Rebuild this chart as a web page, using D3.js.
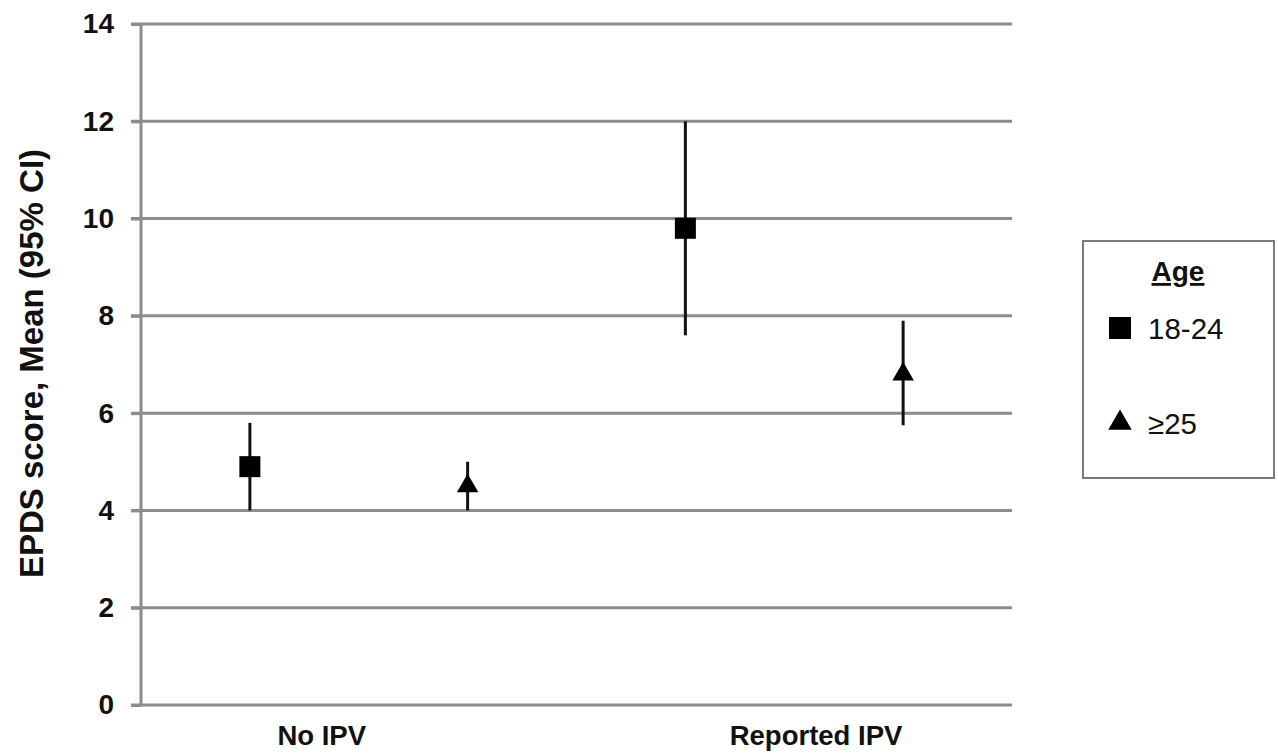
<!DOCTYPE html>
<html>
<head>
<meta charset="utf-8">
<script src="https://cdn.jsdelivr.net/npm/d3@7"></script>
<style>
  html, body { margin: 0; padding: 0; background: #fff; }
  svg { display: block; font-family: "Liberation Sans", Arial, Helvetica, sans-serif; }
</style>
</head>
<body>
<svg id="chart" width="1278" height="756"></svg>
<script>
// ---- data ----
const categories = ["No IPV", "Reported IPV"];
const ageGroups = ["18-24", "\u226525"];
const meanValues = [[4.9, 4.5], [9.8, 6.8]];      // [category][age]
const ciLower    = [[4.0, 4.0], [7.6, 5.75]];
const ciUpper    = [[5.8, 5.0], [12.0, 7.9]];
const yTicks = [0, 2, 4, 6, 8, 10, 12, 14];
const yTitle = "EPDS score, Mean (95% CI)";
const legendTitle = "Age";
// slot positions of category labels along the 4-slot x-domain
const categoryLabelPos = [0.83, 3.1];

// ---- layout ----
const svg = d3.select("#chart");
const plotLeft = 141, plotRight = 1012, plotTop = 24, plotBottom = 705;

const y = d3.scaleLinear().domain([0, 14]).range([plotBottom, plotTop]);
const x = d3.scaleLinear().domain([0, 4]).range([plotLeft, plotRight]);

const gridColor = "#8c8c8c";

// gridlines
svg.append("g").selectAll("line").data(yTicks).join("line")
  .attr("x1", plotLeft - 10).attr("x2", plotRight)
  .attr("y1", d => y(d)).attr("y2", d => y(d))
  .attr("stroke", gridColor).attr("stroke-width", 3);

// y axis
const yAxis = svg.append("g").attr("transform", `translate(${plotLeft},0)`)
  .call(d3.axisLeft(y).tickValues(yTicks).tickSize(10).tickPadding(17).tickFormat(d3.format("d")));
yAxis.select(".domain").attr("stroke", gridColor).attr("stroke-width", 3)
  .attr("d", `M0,${plotTop}V${plotBottom}`);
yAxis.selectAll(".tick line").attr("stroke", gridColor).attr("stroke-width", 3);
yAxis.selectAll(".tick text").attr("font-size", 28).attr("font-weight", "bold")
  .attr("fill", "#111").attr("font-family", "'Liberation Sans', Arial, sans-serif");

// y title
svg.append("text")
  .attr("transform", `translate(43,${(147 + 580) / 2}) rotate(-90)`)
  .attr("text-anchor", "middle")
  .attr("font-size", 33).attr("font-weight", "bold").attr("fill", "#111")
  .text(yTitle);

// category labels
svg.append("g").selectAll("text").data(categories).join("text")
  .attr("x", (d, i) => x(categoryLabelPos[i]))
  .attr("y", 745)
  .attr("text-anchor", "middle")
  .attr("font-size", 27.5).attr("font-weight", "bold").attr("fill", "#111")
  .text(d => d);

// points
const points = [];
categories.forEach((c, ci) => ageGroups.forEach((a, ai) => {
  points.push({slot: ci * 2 + ai + 0.5, age: ai, mean: meanValues[ci][ai], lo: ciLower[ci][ai], hi: ciUpper[ci][ai]});
}));

const g = svg.append("g");
g.selectAll("line.err").data(points).join("line").attr("class", "err")
  .attr("x1", d => x(d.slot)).attr("x2", d => x(d.slot))
  .attr("y1", d => y(d.lo)).attr("y2", d => y(d.hi))
  .attr("stroke", "#111").attr("stroke-width", 3);

const squareSym = d3.symbol().type(d3.symbolSquare).size(21 * 21);
const triSym = d3.symbol().type(d3.symbolTriangle).size(200);
g.selectAll("path.mk").data(points).join("path").attr("class", "mk")
  .attr("transform", d => `translate(${x(d.slot)},${y(d.mean)})`)
  .attr("d", d => d.age === 0 ? squareSym() : triSym())
  .attr("fill", "#000");

// legend
const leg = svg.append("g");
leg.append("rect").attr("x", 1083).attr("y", 241).attr("width", 191).attr("height", 237)
  .attr("fill", "#fff").attr("stroke", "#7a7a7a").attr("stroke-width", 2);
leg.append("text").attr("x", 1178).attr("y", 281).attr("text-anchor", "middle")
  .attr("font-size", 28).attr("font-weight", "bold").attr("fill", "#111")
  .attr("text-decoration", "underline").text(legendTitle);
const legY = [328, 423];
leg.selectAll("path").data(ageGroups).join("path")
  .attr("transform", (d, i) => `translate(1120,${legY[i]})`)
  .attr("d", (d, i) => i === 0 ? d3.symbol().type(d3.symbolSquare).size(22 * 22)() : d3.symbol().type(d3.symbolTriangle).size(240)())
  .attr("fill", "#000");
leg.selectAll("text.item").data(ageGroups).join("text").attr("class", "item")
  .attr("x", 1148).attr("y", (d, i) => legY[i] + 11)
  .attr("font-size", 29.5).attr("fill", "#111")
  .text(d => d);
</script>
</body>
</html>
